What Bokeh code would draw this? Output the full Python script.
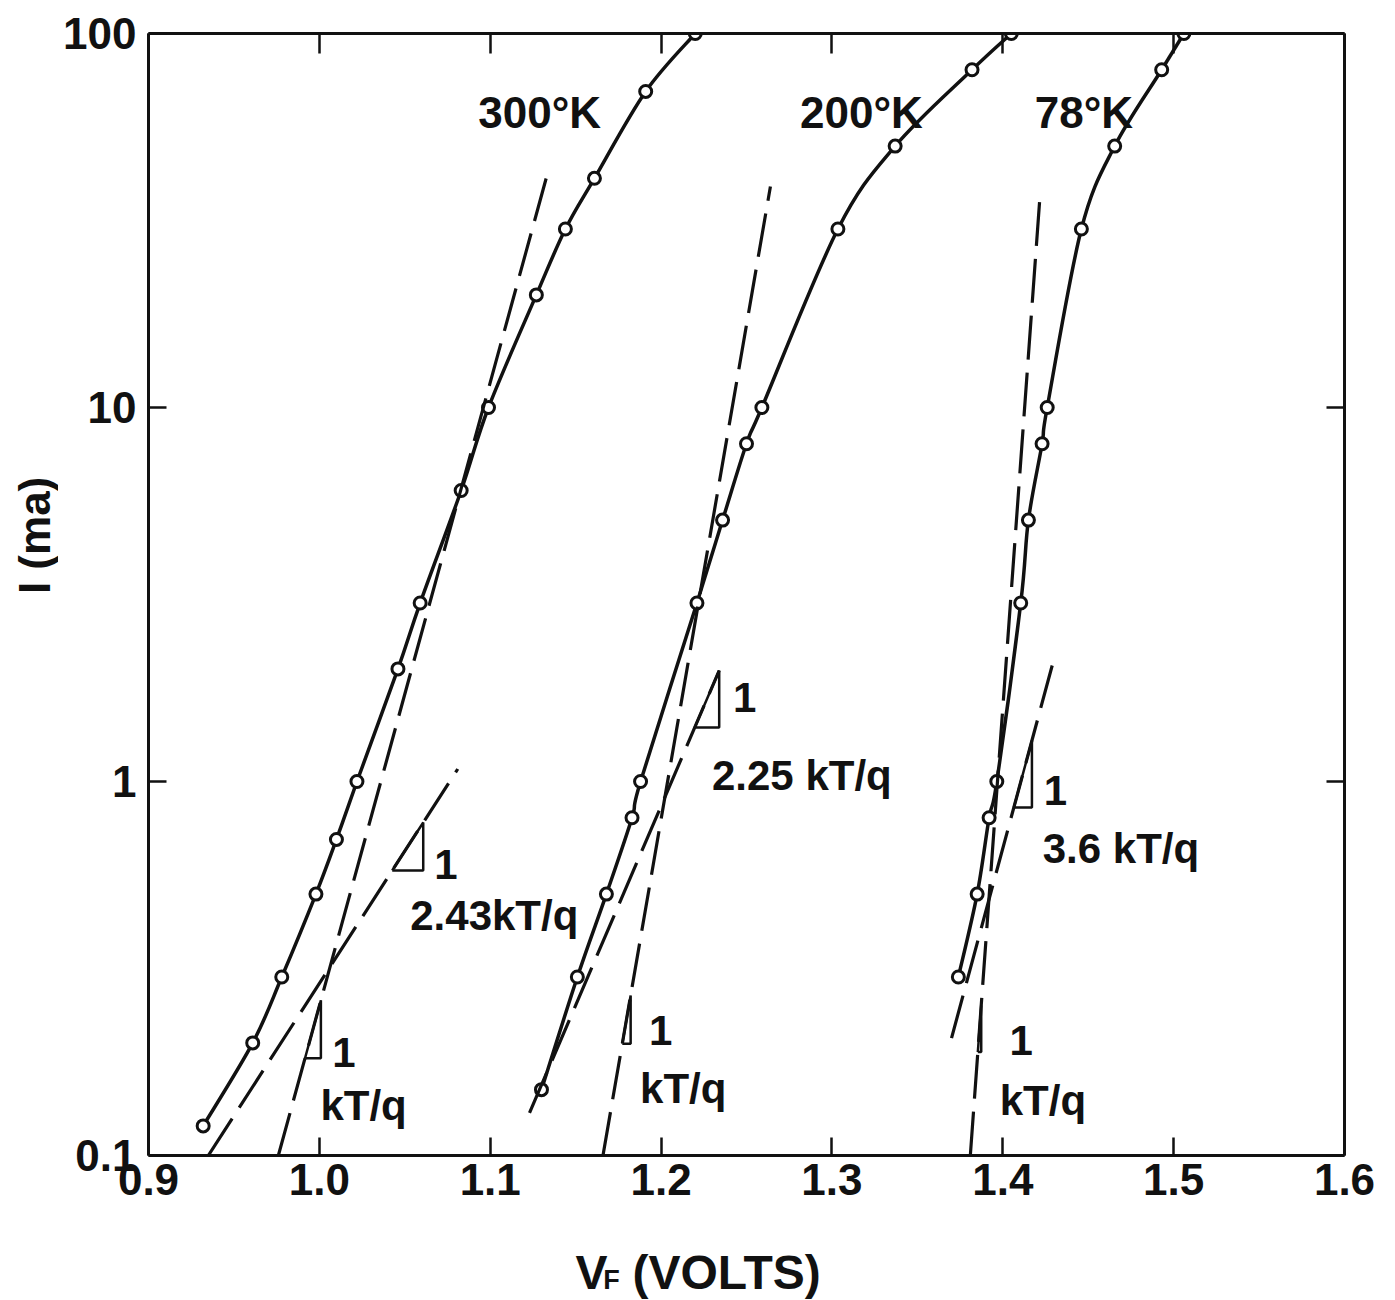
import math
from bokeh.plotting import figure
from bokeh.layouts import column, row
from bokeh.models import Range1d, FixedTicker, LinearAxis, LogAxis, Label, NumeralTickFormatter
from bokeh.core.properties import value
from bokeh.embed import file_html
from bokeh.resources import INLINE

# ---------------- data ----------------
X_TICKS = [0.9, 1.0, 1.1, 1.2, 1.3, 1.4, 1.5, 1.6]
Y_TICKS = [0.1, 1, 10, 100]
Y_TICK_LABELS = ["0.1", "1", "10", "100"]

V_300 = [0.932, 0.961, 0.978, 0.998, 1.010, 1.022, 1.046, 1.059, 1.083, 1.099, 1.127, 1.144, 1.161, 1.191, 1.220]
I_300 = [0.12, 0.2, 0.3, 0.5, 0.7, 1.0, 2.0, 3.0, 6.0, 10, 20, 30, 41, 70, 100]

V_200 = [1.130, 1.151, 1.168, 1.183, 1.188, 1.221, 1.236, 1.250, 1.259, 1.3035, 1.337, 1.382, 1.405]
I_200 = [0.15, 0.3, 0.5, 0.8, 1.0, 3.0, 5.0, 8.0, 10, 30, 50, 80, 100]

V_78 = [1.374, 1.385, 1.392, 1.3965, 1.4105, 1.415, 1.423, 1.426, 1.446, 1.4655, 1.493, 1.506]
I_78 = [0.3, 0.5, 0.8, 1.0, 3.0, 5.0, 8.0, 10, 30, 50, 80, 100]

# tangent (dashed) lines: [V_start, V_end], [I_start, I_end]
TAN_300_KT_V, TAN_300_KT_I = [0.976, 1.134], [0.1, 43]
TAN_300_243_V, TAN_300_243_I = [0.935, 1.081], [0.1, 1.08]
TAN_200_KT_V, TAN_200_KT_I = [1.166, 1.264], [0.1, 39]
TAN_200_225_V, TAN_200_225_I = [1.123, 1.234], [0.13, 1.98]
TAN_78_KT_V, TAN_78_KT_I = [1.381, 1.422], [0.1, 38]
TAN_78_36_V, TAN_78_36_I = [1.370, 1.430], [0.206, 2.13]

# slope triangles: (tangent V, tangent I, I_bottom, I_top)
TRIANGLES = [
    (TAN_300_KT_V, TAN_300_KT_I, 0.182, 0.26),
    (TAN_300_243_V, TAN_300_243_I, 0.578, 0.777),
    (TAN_200_KT_V, TAN_200_KT_I, 0.199, 0.268),
    (TAN_200_225_V, TAN_200_225_I, 1.394, 1.981),
    (TAN_78_KT_V, TAN_78_KT_I, 0.189, 0.252),
    (TAN_78_36_V, TAN_78_36_I, 0.852, 1.287),
]

FONT = "Liberation Sans"
BLACK = "#111111"
STRIP_W = 58

p = figure(width=1395 - STRIP_W, height=1225,
           x_range=Range1d(0.9, 1.6), y_range=Range1d(0.1, 100),
           y_axis_type="log", output_backend="svg", toolbar_location=None,
           min_border_left=148 - STRIP_W, min_border_right=51, min_border_top=33, min_border_bottom=70)
p.background_fill_color = "white"
p.border_fill_color = "white"
p.outline_line_color = None
p.xgrid.visible = False
p.ygrid.visible = False

def style_axis(ax, tick_len):
    ax.axis_line_width = 3
    ax.axis_line_color = BLACK
    ax.major_tick_line_width = 2.5
    ax.major_tick_line_color = BLACK
    ax.major_tick_in = tick_len
    ax.major_tick_out = 0
    ax.minor_tick_in = 0
    ax.minor_tick_out = 0
    ax.major_label_text_font = FONT
    ax.major_label_text_font_style = "bold"
    ax.major_label_text_color = BLACK

# bottom axis
xa = p.xaxis[0]
xa.ticker = FixedTicker(ticks=X_TICKS)
xa.formatter = NumeralTickFormatter(format="0.0")
style_axis(xa, 18)
xa.major_label_text_font_size = "44px"
xa.major_label_standoff = 8

# left axis
ya = p.yaxis[0]
ya.ticker = FixedTicker(ticks=Y_TICKS)
ya.major_label_overrides = {t: s for t, s in zip(Y_TICKS, Y_TICK_LABELS)}
style_axis(ya, 18)
ya.major_label_text_font_size = "44px"
ya.major_label_standoff = 12

# top and right axes (ticks only)
top = LinearAxis(ticker=FixedTicker(ticks=X_TICKS),
                 major_label_overrides={t: "" for t in X_TICKS})
style_axis(top, 20)
top.major_label_text_font_size = "1px"
top.major_label_standoff = 0
p.add_layout(top, "above")

right = LogAxis(ticker=FixedTicker(ticks=Y_TICKS),
                major_label_overrides={t: "" for t in Y_TICKS})
style_axis(right, 18)
right.major_label_text_font_size = "1px"
right.major_label_standoff = 0
p.add_layout(right, "right")

# smooth curves (Catmull-Rom in V / log I space, drawn as Bezier glyphs)
def smooth(vs, cs):
    ly = [math.log10(c) for c in cs]
    n = len(vs)
    out = dict(x0=[], y0=[], x1=[], y1=[], cx0=[], cy0=[], cx1=[], cy1=[])
    for i in range(n - 1):
        a = max(i - 1, 0)
        d = min(i + 2, n - 1)
        out["x0"].append(vs[i]); out["y0"].append(cs[i])
        out["x1"].append(vs[i + 1]); out["y1"].append(cs[i + 1])
        out["cx0"].append(vs[i] + (vs[i + 1] - vs[a]) / 6.0)
        out["cy0"].append(10 ** (ly[i] + (ly[i + 1] - ly[a]) / 6.0))
        out["cx1"].append(vs[i + 1] - (vs[d] - vs[i]) / 6.0)
        out["cy1"].append(10 ** (ly[i + 1] - (ly[d] - ly[i]) / 6.0))
    return out

for vs, cs in [(V_300, I_300), (V_200, I_200), (V_78, I_78)]:
    p.bezier(line_color=BLACK, line_width=3.5, **smooth(vs, cs))
    p.scatter(vs, cs, marker="circle", size=12, fill_color="white",
              line_color=BLACK, line_width=3)

# dashed tangent lines
for vs, cs in [(TAN_300_KT_V, TAN_300_KT_I), (TAN_300_243_V, TAN_300_243_I),
               (TAN_200_KT_V, TAN_200_KT_I), (TAN_200_225_V, TAN_200_225_I),
               (TAN_78_KT_V, TAN_78_KT_I), (TAN_78_36_V, TAN_78_36_I)]:
    p.line(vs, cs, line_color=BLACK, line_width=3.2, line_dash="44 13")

# slope triangles built on their tangent lines
def v_on(tv, ti, i):
    l0, l1 = math.log10(ti[0]), math.log10(ti[1])
    return tv[0] + (math.log10(i) - l0) * (tv[1] - tv[0]) / (l1 - l0)

for tv, ti, ib, it in TRIANGLES:
    vb, vt = v_on(tv, ti, ib), v_on(tv, ti, it)
    p.line([vb, vt, vt, vb], [ib, ib, it, ib], line_color=BLACK, line_width=2.5)

def lab(x, y, text, size="42px"):
    p.add_layout(Label(x=x, y=y, text=text, text_font=FONT, text_font_style="bold",
                       text_font_size=size, text_color=BLACK, text_baseline="alphabetic",
                       text_align="left"))

# temperature labels
lab(1.093, 61.5, "300°K", "44px")
lab(1.2813, 61.5, "200°K", "44px")
lab(1.4187, 61.5, "78°K", "44px")

# slope labels
lab(1.0532, 0.4385, "2.43kT/q")
lab(1.2298, 1.037, "2.25 kT/q")
lab(1.4234, 0.662, "3.6 kT/q")
lab(1.0006, 0.136, "kT/q")
lab(1.1877, 0.151, "kT/q")
lab(1.3982, 0.140, "kT/q")
lab(1.0076, 0.1886, "1")
lab(1.0673, 0.600, "1")
lab(1.193, 0.216, "1")
lab(1.2421, 1.677, "1")
lab(1.424, 0.946, "1")
lab(1.404, 0.203, "1")

# ---- y axis title strip: I (ma) ----
s = figure(width=STRIP_W, height=1225, x_range=Range1d(0, STRIP_W), y_range=Range1d(1225, 0),
           output_backend="svg", toolbar_location=None,
           x_axis_location=None, y_axis_location=None,
           min_border_left=0, min_border_right=0, min_border_top=0, min_border_bottom=0)
s.outline_line_color = None
s.background_fill_color = "white"
s.border_fill_color = "white"
s.grid.visible = False
s.text(x=[34], y=[548], text=["I (ma)"], angle=math.pi / 2, text_font=value(FONT),
       text_font_style="bold", text_font_size="44px", text_color=BLACK,
       text_align="center", text_baseline="middle")

# ---- x axis title strip: V_F (VOLTS) ----
q = figure(width=1395, height=75, x_range=Range1d(0.9 - 148 / 1710, 0.9 + (1395 - 148) / 1710),
           y_range=Range1d(0, 75),
           output_backend="svg", toolbar_location=None,
           x_axis_location=None, y_axis_location=None,
           min_border_left=0, min_border_right=0, min_border_top=0, min_border_bottom=0)
q.outline_line_color = None
q.background_fill_color = "white"
q.border_fill_color = "white"
q.grid.visible = False
TITLE_X = [1.1497, 1.1660, 1.1830]
TITLE_Y = [28, 21, 28]
TITLE_T = ["V", "F", "(VOLTS)"]
TITLE_S = ["48px", "27px", "48px"]
q.text(x=TITLE_X, y=TITLE_Y, text=TITLE_T, text_font=value(FONT), text_font_style="bold",
       text_font_size=TITLE_S, text_color=BLACK, text_baseline="alphabetic", text_align="left")

layout = column(row(s, p, spacing=0), q, spacing=0)
open("out.html", "w").write(file_html(layout, INLINE))
